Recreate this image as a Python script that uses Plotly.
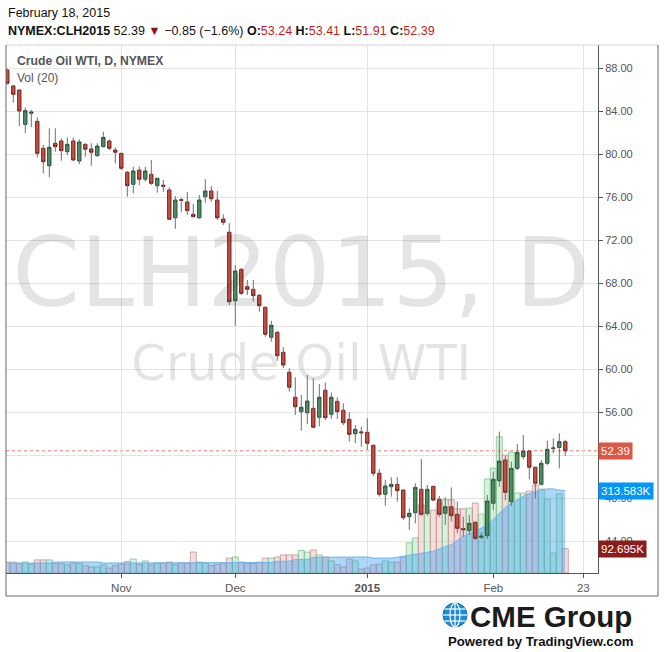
import plotly.graph_objects as go

# ---------------- data ----------------
dates = [
    "2014-10-07","2014-10-08","2014-10-09","2014-10-10","2014-10-13","2014-10-14","2014-10-15","2014-10-16",
    "2014-10-17","2014-10-20","2014-10-21","2014-10-22","2014-10-23","2014-10-24","2014-10-27","2014-10-28",
    "2014-10-29","2014-10-30","2014-10-31",
    "2014-11-03","2014-11-04","2014-11-05","2014-11-06","2014-11-07","2014-11-10","2014-11-11","2014-11-12",
    "2014-11-13","2014-11-14","2014-11-17","2014-11-18","2014-11-19","2014-11-20","2014-11-21","2014-11-24",
    "2014-11-25","2014-11-26","2014-11-28",
    "2014-12-01","2014-12-02","2014-12-03","2014-12-04","2014-12-05","2014-12-08","2014-12-09","2014-12-10",
    "2014-12-11","2014-12-12","2014-12-15","2014-12-16","2014-12-17","2014-12-18","2014-12-19","2014-12-22",
    "2014-12-23","2014-12-24","2014-12-26","2014-12-29","2014-12-30","2014-12-31",
    "2015-01-02","2015-01-05","2015-01-06","2015-01-07","2015-01-08","2015-01-09","2015-01-12","2015-01-13",
    "2015-01-14","2015-01-15","2015-01-16","2015-01-19","2015-01-20","2015-01-21","2015-01-22","2015-01-23",
    "2015-01-26","2015-01-27","2015-01-28","2015-01-29","2015-01-30",
    "2015-02-02","2015-02-03","2015-02-04","2015-02-05","2015-02-06","2015-02-09","2015-02-10","2015-02-11",
    "2015-02-12","2015-02-13","2015-02-16","2015-02-17","2015-02-18",
]
future_dates = ["2015-02-19", "2015-02-20", "2015-02-23", "2015-02-24", "2015-02-25"]

opens = [
    87.81, 86.33, 85.95, 82.76, 83.79, 83.04, 80.53, 78.91, 81.00, 81.21, 80.21, 81.21, 79.35, 80.90, 80.47, 79.84,
    80.68, 81.21, 80.37,
    80.06, 78.30, 77.18, 78.51, 77.65, 78.11, 77.05, 77.10, 76.65, 74.07, 75.75, 75.53, 74.39, 74.07, 76.03, 76.56,
    75.72, 73.95, 72.72,
    66.35, 69.27, 67.66, 67.41, 66.86, 65.74, 62.95, 63.41, 61.55, 59.69, 57.37, 56.03, 55.93, 56.34, 55.51, 58.02,
    55.78, 56.99, 56.16, 55.32, 53.98, 54.15,
    54.11, 52.90, 50.30, 48.34, 49.05, 49.27, 48.74, 46.26, 46.63, 48.81, 46.58, 49.08, 47.88, 46.58, 47.19, 46.48,
    45.15, 44.96, 45.74, 44.35, 44.49,
    47.51, 49.61, 51.53, 47.66, 50.76, 51.84, 52.37, 50.86, 49.27, 51.23, 52.60, 52.70, 53.24,
]
highs = [
    87.95, 86.40, 86.00, 84.34, 84.10, 83.41, 80.84, 82.39, 82.39, 81.46, 81.55, 81.55, 81.37, 81.00, 81.00, 81.00,
    82.07, 81.37, 80.62,
    80.12, 78.42, 78.82, 78.82, 78.82, 79.44, 77.80, 77.58, 76.90, 76.09, 75.93, 76.47, 75.35, 76.19, 77.65, 77.02,
    76.56, 74.39, 73.55,
    69.67, 69.37, 68.28, 68.28, 66.95, 65.80, 64.49, 63.56, 62.02, 60.07, 59.23, 57.58, 59.44, 59.13, 58.60, 58.76,
    57.80, 57.37, 56.81, 55.97, 54.79, 54.63,
    55.41, 52.99, 50.70, 49.67, 49.93, 49.93, 48.80, 47.04, 49.37, 51.63, 49.21, 49.15, 48.19, 48.06, 48.99, 47.66,
    46.26, 46.42, 45.80, 44.81, 48.28,
    50.45, 54.17, 51.91, 51.38, 53.02, 53.86, 52.47, 50.92, 51.53, 53.33, 53.55, 54.02, 53.41,
]
lows = [
    86.45, 84.77, 82.60, 81.93, 82.50, 79.69, 78.20, 77.83, 80.21, 79.38, 79.91, 79.38, 79.07, 79.75, 78.91, 79.75,
    80.62, 80.37, 79.13,
    78.51, 76.03, 76.34, 77.12, 77.42, 77.12, 76.40, 76.49, 73.86, 73.05, 74.63, 74.33, 74.10, 73.95, 75.47, 75.56,
    73.86, 73.40, 65.95,
    64.00, 66.88, 66.88, 66.26, 65.33, 63.00, 62.54, 60.77, 60.07, 57.89, 55.72, 54.26, 54.88, 54.50, 54.66, 55.26,
    55.35, 55.35, 54.79, 53.24, 53.09, 52.77,
    52.47, 50.05, 48.12, 47.28, 48.12, 47.66, 45.95, 45.02, 45.65, 46.35, 46.35, 47.70, 46.26, 45.49, 45.80, 44.72,
    44.40, 44.56, 44.09, 44.16, 44.19,
    46.88, 49.05, 47.81, 47.26, 50.60, 51.60, 49.74, 47.97, 49.18, 51.07, 52.16, 50.76, 51.91,
]
closes = [
    86.58, 85.55, 84.00, 84.03, 83.90, 80.06, 79.28, 80.62, 80.68, 80.31, 80.90, 79.44, 81.12, 80.44, 80.16, 80.74,
    81.55, 80.53, 80.16,
    78.67, 77.05, 78.42, 77.65, 78.42, 77.27, 77.74, 77.00, 73.93, 75.72, 75.70, 74.73, 74.17, 75.72, 76.56, 75.84,
    74.07, 73.65, 66.26,
    69.12, 67.04, 67.41, 66.82, 65.89, 63.23, 64.07, 61.24, 60.37, 58.30, 56.49, 56.44, 57.02, 54.58, 57.37, 55.47,
    57.37, 56.03, 55.00, 53.92, 54.39, 54.07,
    53.09, 50.30, 48.34, 49.12, 49.27, 48.68, 46.17, 46.58, 48.99, 46.48, 48.81, 47.81, 46.48, 47.19, 46.35, 45.18,
    45.05, 45.65, 44.25, 44.45, 47.72,
    49.74, 51.44, 48.53, 50.76, 52.25, 52.37, 50.86, 49.37, 51.23, 52.53, 52.65, 53.24, 52.39,
]
# volume, thousands of contracts
volumes = [
    42, 42, 36, 42, 32, 50, 50, 50, 36, 36, 31, 39, 36, 28, 23, 23, 31, 19, 28,
    34, 44, 53, 32, 46, 31, 38, 38, 42, 32, 38, 38, 80, 42, 38, 28, 33, 37, 57,
    61, 42, 38, 36, 42, 57, 57, 61, 69, 69, 69, 86, 80, 88, 69, 61, 46, 32, 23, 53, 46, 15,
    19, 31, 34, 46, 42, 42, 61, 115, 134, 260, 229, 240, 267, 280, 280, 245, 245, 248, 267, 225, 359,
    400, 520, 450, 462, 305, 305, 313, 336, 320, 282, 76, 302, 92.695,
]
# Vol (20) moving average, thousands
vol_ma = [
    38, 38, 38, 38, 38, 38, 38, 38, 42, 42, 42, 42, 42, 42, 42, 42, 38, 38, 38,
    38, 38, 38, 38, 38, 38, 38, 38, 38, 38, 38, 38, 38, 38, 38, 38, 38, 38, 38,
    40, 40, 40, 40, 40, 40, 40, 45, 45, 45, 52, 52, 52, 60, 60, 60, 60, 60, 61, 61, 61, 61,
    61, 57, 57, 57, 57, 60, 64, 68, 72, 76, 80, 83, 92, 100, 108, 124, 140, 150, 160, 170, 182,
    205, 228, 250, 266, 280, 293, 303, 312, 318, 321, 321, 316, 313.583,
]
last_price = 52.39
last_volume = 92.695
last_ma = 313.583

tick_dates = ["2014-11-03", "2014-12-01", "2015-01-02", "2015-02-02", "2015-02-23"]
tick_text = ["Nov", "Dec", "<b>2015</b>", "Feb", "23"]
price_ticks = [44, 48, 52, 56, 60, 64, 68, 72, 76, 80, 84, 88]
price_tick_text = ["44.00", "48.00", "", "56.00", "60.00", "64.00", "68.00", "72.00", "76.00",
                   "80.00", "84.00", "88.00"]

# ---------------- styling helpers ----------------
W, H = 664, 652
L_PX, R_PX, T_PX, B_PX = 6, 598, 45, 573


def px_x(x):
    return (x - L_PX) / (R_PX - L_PX)


def px_y(y):
    return (B_PX - y) / (B_PX - T_PX)


FONT = "Liberation Sans, Arial, Helvetica, sans-serif"
UP_FILL, UP_LINE = "rgb(88,158,112)", "rgb(28,72,44)"
DN_FILL, DN_LINE = "rgb(222,80,62)", "rgb(108,24,20)"

fig = go.Figure()

# watermark (drawn first, under the candles)
mid_date = dates[len(dates) // 2 + 2]
fig.add_trace(go.Scatter(
    x=[mid_date], y=[68.1], mode="text", text=["CLH2015, D"], yaxis="y2",
    textfont=dict(family="DejaVu Sans, Verdana, sans-serif", size=97, color="rgba(0,0,0,0.105)"),
    textposition="middle center", hoverinfo="skip", showlegend=False))
fig.add_trace(go.Scatter(
    x=[mid_date], y=[60.15], mode="text", text=["Crude Oil WTI"], yaxis="y2",
    textfont=dict(family="DejaVu Sans, Verdana, sans-serif", size=49.5, color="rgba(0,0,0,0.105)"),
    textposition="middle center", hoverinfo="skip", showlegend=False))

# volume bars
up = [c >= o for o, c in zip(opens, closes)]
bar_fill = ["rgba(150,215,160,0.35)" if u else "rgba(225,170,170,0.38)" for u in up]
bar_line = ["rgba(120,190,135,0.75)" if u else "rgba(200,140,140,0.75)" for u in up]
fig.add_trace(go.Bar(
    x=dates, y=volumes, yaxis="y", width=1.0,
    marker=dict(color=bar_fill, line=dict(color=bar_line, width=1)),
    hoverinfo="skip", showlegend=False))

# volume MA area
fig.add_trace(go.Scatter(
    x=dates, y=vol_ma, yaxis="y", mode="lines", fill="tozeroy",
    line=dict(color="rgb(110,180,235)", width=1),
    fillcolor="rgba(60,160,240,0.42)", hoverinfo="skip", showlegend=False))

# invisible trace registering the future dates on the category axis
fig.add_trace(go.Scatter(x=future_dates, y=[None] * len(future_dates), yaxis="y2",
                         mode="markers", showlegend=False, hoverinfo="skip"))

# wicks
wx, wy = [], []
for d, h, l in zip(dates, highs, lows):
    wx += [d, d, None]
    wy += [h, l, None]
fig.add_trace(go.Scatter(x=wx, y=wy, yaxis="y2", mode="lines",
                         line=dict(color="rgb(110,110,110)", width=1),
                         hoverinfo="skip", showlegend=False))

# candle bodies
fig.add_trace(go.Candlestick(
    x=dates, open=opens, close=closes,
    high=[max(o, c) for o, c in zip(opens, closes)],
    low=[min(o, c) for o, c in zip(opens, closes)],
    yaxis="y2",
    increasing=dict(fillcolor=UP_FILL, line=dict(color=UP_LINE, width=1)),
    decreasing=dict(fillcolor=DN_FILL, line=dict(color=DN_LINE, width=1)),
    whiskerwidth=0, hoverinfo="skip", showlegend=False))

x_left = -(7.3 - L_PX) / 6.0
x_right = (R_PX - 7.3) / 6.0

fig.update_layout(
    width=W, height=H,
    margin=dict(l=L_PX, r=W - R_PX, t=T_PX, b=H - B_PX, pad=0),
    paper_bgcolor="white", plot_bgcolor="white",
    showlegend=False, hovermode=False, boxgap=0.22, bargap=0,
    font=dict(family=FONT, size=11, color="#555"),
    xaxis=dict(
        type="category", categoryorder="array", categoryarray=dates + future_dates,
        range=[x_left, x_right], tickmode="array", tickvals=tick_dates, ticktext=tick_text,
        showgrid=True, gridcolor="#e4e4e4", gridwidth=1,
        ticks="outside", ticklen=4, tickcolor="#555", showline=True, linecolor="#555", linewidth=1,
        tickfont=dict(family=FONT, size=11.5, color="#555"),
        rangeslider=dict(visible=False), fixedrange=True, zeroline=False,
    ),
    yaxis=dict(range=[0, (B_PX - T_PX) / 0.262], visible=False, showgrid=False, fixedrange=True),
    yaxis2=dict(
        overlaying="y", side="right", range=[88 - (B_PX - 68) / 10.75, 88 + (68 - T_PX) / 10.75],
        tickmode="array", tickvals=price_ticks, ticktext=price_tick_text,
        showgrid=True, gridcolor="#e4e4e4", gridwidth=1, zeroline=False,
        ticks="outside", ticklen=4, tickcolor="#555", showline=True, linecolor="#555", linewidth=1,
        tickfont=dict(family=FONT, size=11, color="#555"), fixedrange=True,
    ),
)

shapes = []
# last price dotted line
shapes.append(dict(type="line", xref="paper", yref="y2", x0=0, x1=1, y0=last_price, y1=last_price,
                   line=dict(color="rgb(225,120,105)", width=1, dash="dot"), layer="below"))
# frame
fr_r, fr_b = px_x(658), px_y(596)
shapes.append(dict(type="line", xref="paper", yref="paper", x0=0, x1=fr_r, y0=1, y1=1,
                   line=dict(color="#d2d2d2", width=1)))
shapes.append(dict(type="line", xref="paper", yref="paper", x0=0, x1=0, y0=fr_b, y1=1,
                   line=dict(color="#666", width=1)))
shapes.append(dict(type="line", xref="paper", yref="paper", x0=fr_r, x1=fr_r, y0=fr_b, y1=1,
                   line=dict(color="#666", width=1)))
shapes.append(dict(type="line", xref="paper", yref="paper", x0=0, x1=fr_r, y0=fr_b, y1=fr_b,
                   line=dict(color="#666", width=1)))
# CME globe
gx, gy, gr = 455, 615, 12
shapes.append(dict(type="circle", xref="paper", yref="paper",
                   x0=px_x(gx - gr), x1=px_x(gx + gr), y0=px_y(gy + gr), y1=px_y(gy - gr),
                   fillcolor="rgb(28,138,212)", line=dict(color="rgb(18,110,180)", width=1)))
shapes.append(dict(type="circle", xref="paper", yref="paper",
                   x0=px_x(gx - 5), x1=px_x(gx + 5), y0=px_y(gy + gr), y1=px_y(gy - gr),
                   line=dict(color="white", width=1.2)))
for dy in (-6, 0, 6):
    half = (gr ** 2 - dy ** 2) ** 0.5
    shapes.append(dict(type="line", xref="paper", yref="paper",
                       x0=px_x(gx - half), x1=px_x(gx + half), y0=px_y(gy + dy), y1=px_y(gy + dy),
                       line=dict(color="white", width=1.2)))
shapes.append(dict(type="line", xref="paper", yref="paper",
                   x0=px_x(gx), x1=px_x(gx), y0=px_y(gy + gr), y1=px_y(gy - gr),
                   line=dict(color="white", width=1.2)))
fig.update_layout(shapes=shapes)

red = "rgb(190,30,30)"
header2 = (f"<b>NYMEX:CLH2015</b> {last_price:.2f} <span style='color:rgb(140,20,20)'>▼</span> "
           f"−0.85 (−1.6%) "
           f"<b>O:</b><span style='color:{red}'>{opens[-1]:.2f}</span> "
           f"<b>H:</b><span style='color:{red}'>{highs[-1]:.2f}</span> "
           f"<b>L:</b><span style='color:{red}'>{lows[-1]:.2f}</span> "
           f"<b>C:</b><span style='color:{red}'>{closes[-1]:.2f}</span>")

ann = [
    dict(text="February 18, 2015", x=px_x(6), y=px_y(13), xref="paper", yref="paper",
         xanchor="left", yanchor="middle", showarrow=False,
         font=dict(family=FONT, size=12.5, color="#111")),
    dict(text=header2, x=px_x(6), y=px_y(31), xref="paper", yref="paper",
         xanchor="left", yanchor="middle", showarrow=False,
         font=dict(family=FONT, size=12.5, color="#111")),
    dict(text="<b>Crude Oil WTI, D, NYMEX</b>", x=px_x(15), y=px_y(61), xref="paper", yref="paper",
         xanchor="left", yanchor="middle", showarrow=False,
         font=dict(family=FONT, size=12.2, color="#555")),
    dict(text="Vol (20)", x=px_x(15), y=px_y(78), xref="paper", yref="paper",
         xanchor="left", yanchor="middle", showarrow=False,
         font=dict(family=FONT, size=12, color="#555")),
    dict(text=f"{last_price:.2f}", x=1.0, y=last_price, xref="paper", yref="y2",
         xanchor="left", yanchor="middle", showarrow=False, bgcolor="rgb(222,86,68)",
         borderpad=2, font=dict(family=FONT, size=11.5, color="white")),
    dict(text=f"{last_ma:.3f}K", x=1.0, y=last_ma, xref="paper", yref="y",
         xanchor="left", yanchor="middle", showarrow=False, bgcolor="rgb(0,150,255)",
         borderpad=2, font=dict(family=FONT, size=11.5, color="white")),
    dict(text=f"{last_volume:.3f}K", x=1.0, y=last_volume, xref="paper", yref="y",
         xanchor="left", yanchor="middle", showarrow=False, bgcolor="rgb(138,28,28)",
         borderpad=2, font=dict(family=FONT, size=11.5, color="white")),
    dict(text="<b>CME Group</b>", x=px_x(468), y=px_y(616), xref="paper", yref="paper",
         xanchor="left", yanchor="middle", showarrow=False,
         font=dict(family=FONT, size=29.5, color="#1c1c1c")),
    dict(text="<b>Powered by TradingView.com</b>", x=px_x(446), y=px_y(641), xref="paper", yref="paper",
         xanchor="left", yanchor="middle", showarrow=False,
         font=dict(family=FONT, size=13.2, color="#111")),
]
fig.update_layout(annotations=ann)

fig.write_html(
    "out.html",
    config={"displayModeBar": False, "staticPlot": True},
    post_script="document.body.style.margin='0';document.body.style.padding='0';",
)
